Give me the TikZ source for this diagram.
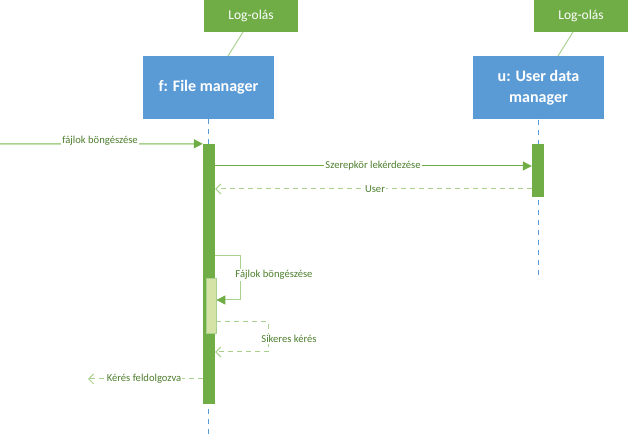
\documentclass[tikz,border=0pt]{standalone}
\usepackage{fontspec}
\setmainfont{Carlito}
\usetikzlibrary{arrows.meta}
\definecolor{gdark}{HTML}{70AD47}
\definecolor{glight}{HTML}{A9D18E}
\definecolor{gpale}{HTML}{D5E4A6}
\definecolor{bblue}{HTML}{5B9BD5}
\definecolor{gtext}{HTML}{4E7F2E}
\begin{document}
\begin{tikzpicture}[x=1pt,y=-1pt,
  notebox/.style={fill=gdark,draw=none,text=white,minimum width=94pt,minimum height=32pt,inner sep=0pt,font=\fontsize{13.5}{16}\selectfont},
  objbox/.style={fill=bblue,draw=none,text=white,minimum width=131pt,minimum height=63pt,inner sep=0pt,align=center,font=\fontsize{16}{21}\selectfont\bfseries},
  lifeline/.style={draw=bblue,line width=0.8pt,dash pattern=on 5pt off 5pt},
  actbar/.style={fill=gdark,draw=none,minimum width=12pt,inner sep=0pt},
  subbar/.style={fill=gpale,draw=glight,line width=0.8pt,minimum width=10pt,inner sep=0pt},
  notelink/.style={draw=glight,line width=1pt},
  callmsg/.style={draw=gdark,line width=1pt,-{Triangle[length=9pt,width=9pt,fill=gdark,color=gdark]}},
  retmsg/.style={draw=glight,line width=1pt,dash pattern=on 5pt off 4pt,-{Straight Barb[length=5pt,width=10pt,color=glight]}},
  lbl/.style={fill=white,inner sep=1pt,text=gtext,font=\fontsize{10.6}{12}\selectfont}
]
\useasboundingbox (0,0) rectangle (630,435);

% note boxes
\node[notebox] (n1) at (251,16) {Log-olás};
\node[notebox] (n2) at (581,16) {Log-olás};

% object boxes
\node[objbox] (fm) at (208.5,87.5) {f: File manager};
\node[objbox] (um) at (538.5,88) {u: User data\\manager};

\coordinate (n1a) at (243,32);
\coordinate (n1b) at (228,56);
\coordinate (n2a) at (573,32);
\coordinate (n2b) at (558,56);
\draw[notelink] (n1a) -- (n1b);
\draw[notelink] (n2a) -- (n2b);

% lifelines
\coordinate (fmend) at (208.5,435);
\coordinate (umend) at (538.5,276);
\draw[lifeline] (fm.south) -- (fmend);
\draw[lifeline] (um.south) -- (umend);

% activation bars
\node[actbar,minimum height=260pt] (bar1) at (209,274) {};
\node[actbar,minimum height=53pt] (bar2) at (538,170.5) {};
\node[subbar,minimum height=55pt] (sub) at (211,305.5) {};

% incoming message
\coordinate (src) at (0,144);
\draw[draw=glight,line width=1.5pt,-{Triangle[length=9pt,width=9pt,fill=gdark,color=gdark]}] (src) -- (bar1.north west);
\node[lbl] (l1) at (100,141) {fájlok böngészése};

% call to user data manager
\draw[callmsg] (bar1.east |- 0,166) -- (bar2.west |- 0,166);
\node[lbl] (l2) at (373,166) {Szerepkör lekérdezése};

% return user
\draw[retmsg] (bar2.west |- 0,189) -- (bar1.east |- 0,189);
\node[lbl] (l3) at (375,189) {User};

% self call
\coordinate (sc1) at (240,256);
\coordinate (sc2) at (240,300);
\draw[callmsg,draw=glight] (bar1.east |- sc1) -- (sc1) -- (sc2) -- (sub.east |- sc2);
\node[lbl] (l4) at (274,275) {Fájlok böngészése};

% self return
\coordinate (sr1) at (268,322);
\coordinate (sr2) at (268,352);
\draw[retmsg] (sub.east |- sr1) -- (sr1) -- (sr2) -- (bar1.east |- sr2);
\node[lbl] (l5) at (289,339) {Sikeres kérés};

% outgoing return
\coordinate (outend) at (88,379);
\draw[retmsg] (bar1.west |- outend) -- (outend);
\node[lbl] (l6) at (144,379) {Kérés feldolgozva};
\end{tikzpicture}
\end{document}
